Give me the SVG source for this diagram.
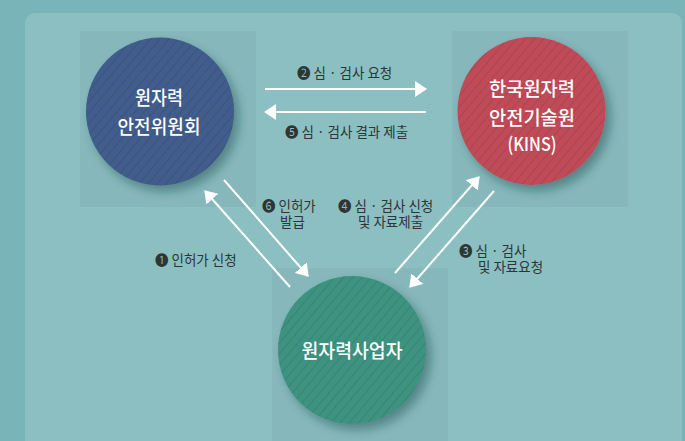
<svg xmlns="http://www.w3.org/2000/svg" width="685" height="441" viewBox="0 0 685 441">
<style>
.node{font-family:"Noto Sans CJK KR","Noto Sans",sans-serif;font-size:19px;fill:#ffffff;text-anchor:middle;font-weight:500}
.lbl{font-family:"Noto Sans CJK KR","DejaVu Sans",sans-serif;font-size:13.5px;fill:#2e3535}
.conn{stroke:#ffffff;stroke-width:2;fill:none}
.sq{fill:#86b7ba}
</style>
<defs>
<pattern id="stripe" width="7" height="7" patternUnits="userSpaceOnUse" patternTransform="rotate(40)">
<rect width="7" height="7" fill="none"/>
<line x1="0" y1="0" x2="0" y2="7" stroke="#000" stroke-opacity="0.12" stroke-width="1.6"/>
</pattern>
<filter id="sh" x="-30%" y="-30%" width="160%" height="160%">
<feDropShadow dx="5" dy="6" stdDeviation="5" flood-color="#1f4a4c" flood-opacity="0.45"/>
</filter>
<marker id="ah" viewBox="0 0 12 16" markerWidth="12" markerHeight="16" refX="11" refY="8" orient="auto" markerUnits="userSpaceOnUse">
<path d="M0,0 L12,8 L0,16 z" fill="#ffffff"/>
</marker>
</defs>
<rect width="685" height="441" fill="#79b5b8"/>
<rect x="25" y="13" width="657" height="460" rx="10" fill="#8bbfc2"/>
<rect class="sq" x="80" y="31" width="176" height="176"/>
<rect class="sq" x="452" y="31" width="176" height="176"/>
<rect class="sq" x="272" y="268" width="176" height="176"/>

<g id="conn">
<line class="conn" x1="265" y1="89" x2="426" y2="89" marker-end="url(#ah)"/>
<line class="conn" x1="426" y1="112" x2="265" y2="112" marker-end="url(#ah)"/>
<line class="conn" x1="290" y1="287" x2="205" y2="191" marker-end="url(#ah)"/>
<line class="conn" x1="224" y1="180" x2="308" y2="276" marker-end="url(#ah)"/>
<line class="conn" x1="395" y1="273" x2="479" y2="177" marker-end="url(#ah)"/>
<line class="conn" x1="494" y1="191" x2="410" y2="287" marker-end="url(#ah)"/>
<text class="lbl" x="297" y="78">❷ 심 · 검사 요청</text>
<text class="lbl" x="285" y="137">❺ 심 · 검사 결과 제출</text>
<text class="lbl" x="262" y="211">❻ 인허가<tspan x="280" y="227">발급</tspan></text>
<text class="lbl" x="155" y="265">❶ 인허가 신청</text>
<text class="lbl" x="338" y="211">❹ 심 · 검사 신청<tspan x="358" y="227">및 자료제출</tspan></text>
<text class="lbl" x="459" y="256">❸ 심 · 검사<tspan x="478" y="272">및 자료요청</tspan></text>
</g>

<g id="nssc">
<circle cx="160" cy="111.5" r="74" fill="#3f5d8b" filter="url(#sh)"/>
<circle cx="160" cy="111.5" r="74" fill="url(#stripe)"/>
<text class="node" x="159" y="105" textLength="48" lengthAdjust="spacingAndGlyphs">원자력</text>
<text class="node" x="159" y="134" textLength="83" lengthAdjust="spacingAndGlyphs">안전위원회</text>
</g>

<g id="kins">
<circle cx="531.5" cy="111" r="74" fill="#bf4c59" filter="url(#sh)"/>
<circle cx="531.5" cy="111" r="74" fill="url(#stripe)"/>
<text class="node" x="532" y="96" textLength="86" lengthAdjust="spacingAndGlyphs">한국원자력</text>
<text class="node" x="532" y="125" textLength="86" lengthAdjust="spacingAndGlyphs">안전기술원</text>
<text class="node" x="532" y="151" textLength="49" lengthAdjust="spacingAndGlyphs">(KINS)</text>
</g>

<g id="operator">
<circle cx="352" cy="350" r="74" fill="#3d9380" filter="url(#sh)"/>
<circle cx="352" cy="350" r="74" fill="url(#stripe)"/>
<text class="node" x="352" y="358" textLength="101" lengthAdjust="spacingAndGlyphs">원자력사업자</text>
</g>
</svg>
